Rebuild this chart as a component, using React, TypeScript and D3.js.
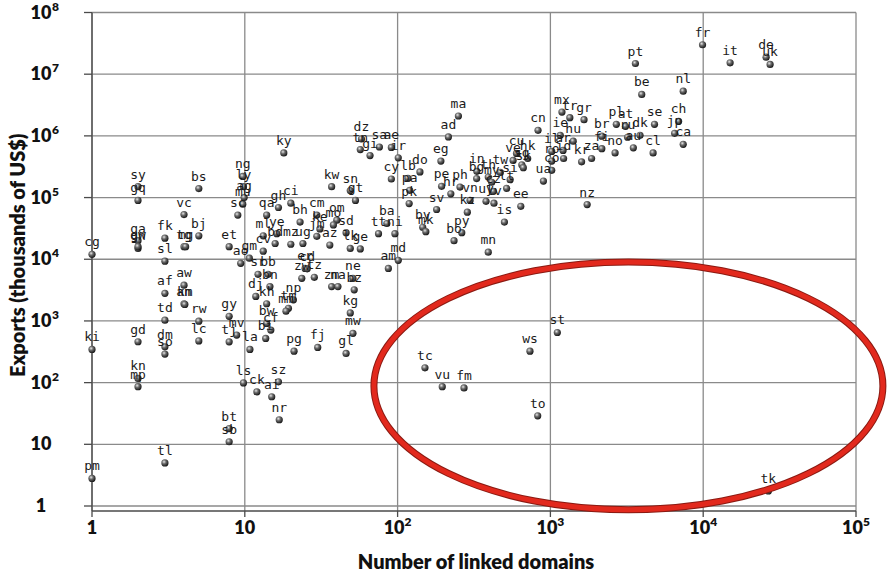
import React from 'react'
import * as d3 from 'd3'

// [country code, number of linked domains, exports (thousands of US$)]
type Pt = [string, number, number]

const bigExporters: Pt[] = [
  ['fr', 9900, 3.0e7], ['it', 15000, 1.53e7], ['de', 25800, 1.89e7], ['uk', 27400, 1.44e7],
  ['pt', 3600, 1.49e7], ['be', 3960, 4.7e6], ['nl', 7400, 5.3e6], ['ch', 6900, 1.72e6],
  ['jp', 6500, 1.1e6], ['ca', 7400, 7.3e5], ['se', 4800, 1.54e6], ['pl', 2700, 1.54e6],
  ['at', 3100, 1.43e6], ['dk', 3860, 1.02e6], ['ru', 3200, 9.5e5], ['br', 2170, 9.9e5],
  ['au', 3490, 6.4e5], ['cl', 4700, 5.3e5], ['fi', 2170, 6.2e5], ['no', 2650, 5.3e5],
  ['mx', 1190, 2.43e6], ['tr', 1340, 1.97e6], ['gr', 1660, 1.83e6], ['ie', 1160, 1.02e6],
  ['hu', 1410, 8.2e5], ['il', 1020, 5.6e5], ['ar', 1210, 5.8e5], ['id', 1220, 4.3e5],
  ['kr', 1600, 3.8e5], ['za', 1860, 4.3e5], ['nz', 1740, 7.7e4],
]

const middle: Pt[] = [
  ['cn', 830, 1.23e6], ['ma', 250, 2.1e6], ['ad', 215, 9.6e5], ['eg', 192, 3.9e5],
  ['ro', 1020, 3.9e5], ['co', 1020, 2.76e5], ['ua', 900, 1.85e5], ['cu', 600, 5.2e5],
  ['hk', 710, 4.3e5], ['ve', 570, 4.0e5], ['sg', 650, 3.4e5], ['sk', 665, 3.05e5],
  ['si', 545, 1.95e5], ['tw', 470, 2.56e5], ['in', 330, 2.66e5], ['bg', 329, 2.03e5],
  ['th', 392, 2.15e5], ['my', 413, 1.77e5], ['cz', 423, 1.26e5], ['lt', 517, 1.41e5],
  ['vn', 298, 9.0e4], ['uy', 379, 8.7e4], ['lv', 427, 8.1e4], ['kz', 286, 5.8e4],
  ['ee', 640, 7.2e4], ['is', 500, 4.0e4], ['pe', 194, 1.52e5], ['ph', 256, 1.48e5],
  ['hr', 223, 1.15e5], ['sv', 180, 6.4e4], ['by', 146, 3.3e4], ['mk', 153, 2.8e4],
  ['py', 263, 2.7e4], ['bo', 234, 2.0e4], ['mn', 392, 1.3e4], ['cy', 91, 2.0e5],
  ['lb', 117, 2.05e5], ['do', 140, 2.6e5], ['pa', 120, 1.31e5], ['pk', 119, 8.0e4],
  ['ir', 101, 4.4e5],
]

const cluster: Pt[] = [
  ['ky', 18, 5.3e5], ['dz', 58, 8.9e5], ['tn', 57, 6.0e5], ['sa', 76, 6.6e5],
  ['ae', 91, 6.5e5], ['gi', 66, 4.8e5], ['kw', 37, 1.5e5], ['sn', 49, 1.3e5],
  ['gt', 53, 9.0e4], ['ci', 20, 8.1e4], ['gh', 16.6, 6.9e4], ['qa', 13.9, 5.2e4],
  ['bh', 23, 4.0e4], ['cm', 29.6, 5.2e4], ['om', 40, 4.3e4], ['ke', 31, 3.1e4],
  ['mo', 38, 3.6e4], ['sd', 46, 2.7e4], ['ml', 13.2, 2.4e4], ['ye', 16.2, 2.6e4],
  ['bd', 15.8, 1.8e4], ['mz', 20, 1.75e4], ['ug', 24, 1.8e4], ['cv', 13.2, 1.35e4],
  ['gm', 10.7, 1.04e4], ['ao', 9.4, 8600], ['jm', 29.6, 2.35e4], ['az', 36, 1.7e4],
  ['lk', 49, 1.5e4], ['ge', 57, 1.47e4], ['ba', 85, 3.8e4], ['tt', 75, 2.6e4],
  ['ni', 96, 2.6e4], ['md', 101, 9600], ['am', 87, 7100],
]

const fewDomains: Pt[] = [
  ['cg', 1, 12000], ['sy', 2, 1.5e5], ['gq', 2, 9.0e4], ['bs', 5, 1.4e5],
  ['vc', 4, 5.3e4], ['bj', 5, 2.4e4], ['fk', 3, 2.2e4], ['tg', 4, 1.6e4],
  ['mg', 4.1, 1.6e4], ['ga', 2, 2.0e4], ['gn', 2, 1.5e4], ['gw', 2, 1.6e4],
  ['sl', 3, 9300], ['et', 7.9, 1.6e4], ['sc', 9.0, 5.2e4], ['ng', 9.7, 2.2e5],
  ['ly', 9.8, 1.5e5], ['ag', 9.9, 1.0e5], ['mu', 9.7, 7.8e4],
]

const smallEconomies: Pt[] = [
  ['aw', 4, 3800], ['af', 3, 2800], ['an', 4, 1900], ['km', 4.05, 1850],
  ['td', 3, 1030], ['rw', 5, 990], ['gy', 7.9, 1190], ['mv', 8.85, 590],
  ['tj', 7.9, 458], ['lc', 5, 475], ['gd', 2, 460], ['dm', 3, 380],
  ['so', 3, 290], ['ki', 1, 345], ['kn', 2, 117], ['mp', 2, 86],
  ['la', 10.8, 345], ['ls', 9.8, 99], ['sr', 12.2, 5700], ['bb', 14.2, 5700],
  ['bn', 14.6, 3600], ['dj', 11.8, 2500], ['kh', 13.9, 1900], ['np', 20.8, 2200],
  ['tm', 19.3, 1600], ['mm', 18.6, 1440], ['bw', 13.9, 910], ['cf', 14.8, 710],
  ['bi', 13.7, 520], ['zw', 23.6, 4900], ['er', 24.8, 7100], ['cd', 25.6, 7000],
  ['tz', 28.5, 5100], ['zm', 37, 3600], ['na', 40.7, 3600], ['ne', 51, 4900],
  ['bz', 52, 3200], ['kg', 49, 1350], ['mw', 51, 630], ['gl', 46, 297],
  ['fj', 30, 372], ['pg', 21, 324], ['sz', 16.6, 103], ['ck', 12, 71],
  ['ai', 15, 59], ['nr', 16.8, 25], ['bt', 7.9, 18], ['sb', 7.9, 11],
  ['tl', 3, 5], ['pm', 1, 2.8],
]

// the ones inside the red ring
const outliers: Pt[] = [
  ['st', 1110, 650], ['ws', 735, 324], ['tc', 151, 174], ['vu', 196, 86],
  ['fm', 272, 82], ['to', 826, 29], ['tk', 26700, 1.75],
]

const xTicks = [1, 10, 100, 1e3, 1e4, 1e5]
const yTicks = [1, 10, 100, 1e3, 1e4, 1e5, 1e6, 1e7, 1e8]
// extent of the highlight ring, in data units
const ringX = [70, 150000]
const ringY = [0.87, 9000]

const W = 887
const H = 575
const font = 'Lato, "Open Sans", sans-serif'

// "1", "10", or "10" with a raised exponent; the base is centred on cx
const TickLabel = ({ v, cx, y, centreWhole }: any) => {
  const p = Math.round(Math.log10(v))
  if (p < 2) return <text x={cx} y={y} textAnchor="middle">{String(v)}</text>
  if (centreWhole) {
    return (
      <text x={cx} y={y} textAnchor="middle">
        10<tspan fontSize={12} dy={-8}>{p}</tspan>
      </text>
    )
  }
  return (
    <g>
      <text x={cx} y={y} textAnchor="middle">10</text>
      <text x={cx + 11} y={y - 8} fontSize={12}>{p}</text>
    </g>
  )
}

export default function App() {
  const x = d3.scaleLog().domain([1, 1e5]).range([92, 856])
  const y = d3.scaleLog().domain([1, 1e8]).range([506, 12.5])
  const axisY = 511

  const points = [...bigExporters, ...middle, ...cluster, ...fewDomains, ...smallEconomies, ...outliers]

  const rx0 = x(ringX[0]), rx1 = x(ringX[1])
  const ry0 = y(ringY[1]), ry1 = y(ringY[0])

  return (
    <svg width={W} height={H} style={{ position: 'absolute', left: 0, top: 0, background: '#fff' }}>
      <defs>
        <radialGradient id="ball" cx="38%" cy="35%" r="70%">
          <stop offset="0%" stopColor="#e6e6e6" />
          <stop offset="40%" stopColor="#6a6a6a" />
          <stop offset="100%" stopColor="#0d0d0d" />
        </radialGradient>
      </defs>

      {/* grid */}
      <g stroke="#8a8a8a" strokeWidth={1.3}>
        {yTicks.map(t => (
          <line key={'gy' + t} x1={x(1)} x2={x(1e5)} y1={y(t)} y2={y(t)} />
        ))}
        {xTicks.map(t => (
          <line key={'gx' + t} x1={x(t)} x2={x(t)} y1={y(1e8)} y2={axisY} />
        ))}
      </g>

      {/* axes */}
      <g stroke="#4a4a4a" strokeWidth={1.3}>
        <line x1={x(1)} x2={x(1e5)} y1={axisY} y2={axisY} />
        <line x1={x(1)} x2={x(1)} y1={y(1e8)} y2={axisY} />
        {xTicks.map(t => (
          <line key={'tx' + t} x1={x(t)} x2={x(t)} y1={axisY} y2={axisY + 6} />
        ))}
        {yTicks.map(t => (
          <line key={'ty' + t} x1={x(1) - 8} x2={x(1)} y1={y(t)} y2={y(t)} />
        ))}
      </g>

      {/* tick labels */}
      <g fontFamily={font} fontWeight={800} fontSize={18} fill="#111">
        {yTicks.map(t => (
          <TickLabel key={'ly' + t} v={t} cx={41} y={y(t) + 6} />
        ))}
        {xTicks.map(t => (
          <TickLabel key={'lx' + t} v={t} cx={x(t)} y={534} centreWhole />
        ))}
      </g>

      <text x={(x(1) + x(1e5)) / 2 + 2} y={569} textAnchor="middle" fontFamily={font}
        fontWeight={800} fontSize={20} fill="#111">Number of linked domains</text>
      <text transform={`translate(25,${(y(1) + y(1e8)) / 2 - 4}) rotate(-90)`} textAnchor="middle"
        fontFamily={font} fontWeight={800} fontSize={20} fill="#111">Exports (thousands of US$)</text>

      {/* points */}
      <g>
        {points.map(([c, d, e], i) => (
          <circle key={'p' + i} cx={x(d)} cy={y(e)} r={3.6} fill="url(#ball)" />
        ))}
      </g>
      <g fontFamily='"DejaVu Sans Mono", monospace' fontSize={13} fill="#1b1b1b" textAnchor="middle">
        {points.map(([c, d, e], i) => (
          <text key={'t' + i} x={x(d)} y={y(e) - 8}>{c}</text>
        ))}
      </g>

      {/* highlight ring */}
      <ellipse cx={(rx0 + rx1) / 2} cy={(ry0 + ry1) / 2} rx={(rx1 - rx0) / 2} ry={(ry1 - ry0) / 2}
        fill="none" stroke="#8a1a12" strokeWidth={7} />
      <ellipse cx={(rx0 + rx1) / 2} cy={(ry0 + ry1) / 2} rx={(rx1 - rx0) / 2} ry={(ry1 - ry0) / 2}
        fill="none" stroke="#e2291d" strokeWidth={5} />
    </svg>
  )
}
